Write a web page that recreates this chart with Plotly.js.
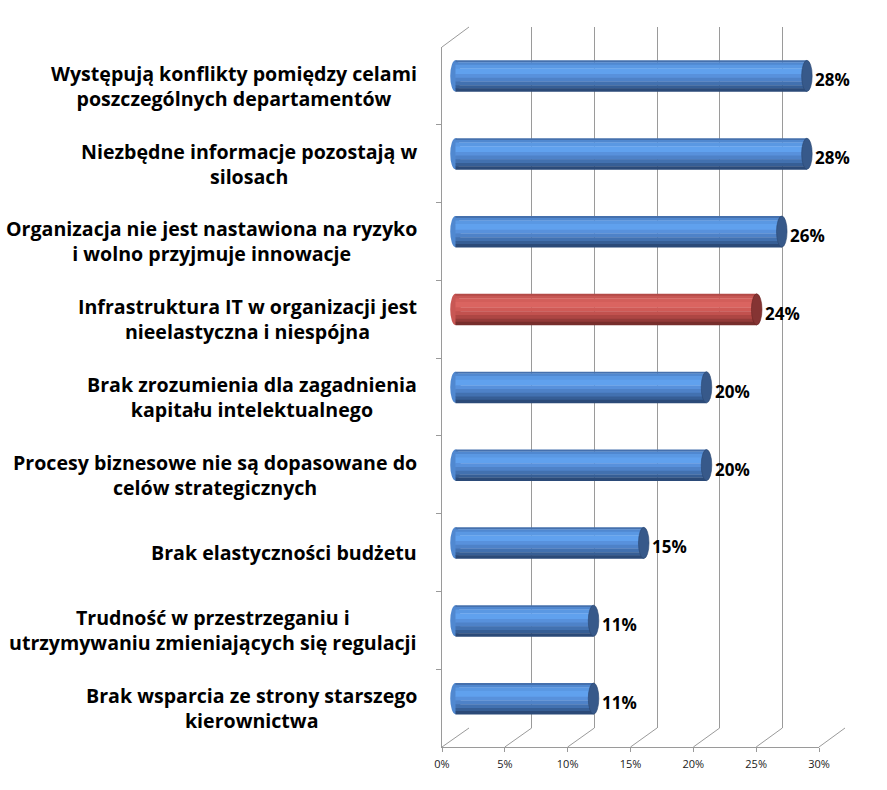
<!DOCTYPE html>
<html>
<head>
<meta charset="utf-8">
<script src="https://cdn.plot.ly/plotly-3.0.1.min.js"></script>
<style>html,body{margin:0;padding:0;background:#fff;}#chart{width:887px;height:790px;}</style>
</head>
<body>
<div id="chart"></div>
<script>
// ---- data ----
var categories = [
  "Występują konflikty pomiędzy celami<br>poszczególnych departamentów",
  "Niezbędne informacje pozostają w<br>silosach",
  "Organizacja nie jest nastawiona na ryzyko<br>i wolno przyjmuje innowacje",
  "Infrastruktura IT w organizacji jest<br>nieelastyczna i niespójna",
  "Brak zrozumienia dla zagadnienia<br>kapitału intelektualnego",
  "Procesy biznesowe nie są dopasowane do<br>celów strategicznych",
  "Brak elastyczności budżetu",
  "Trudność w przestrzeganiu i<br>utrzymywaniu zmieniających się regulacji",
  "Brak wsparcia ze strony starszego<br>kierownictwa"
];
var values = [28, 28, 26, 24, 20, 20, 15, 11, 11];
var valueLabels = ["28%", "28%", "26%", "24%", "20%", "20%", "15%", "11%", "11%"];
var highlighted = [false, false, false, true, false, false, false, false, false];
var tickValues = [0, 5, 10, 15, 20, 25, 30];

// ---- styling ----
var W = 887, H = 790;
function px(x){ return x / W; }
function py(y){ return 1 - y / H; }
var frontBox = {x0: 442, x1: 819, y0: 47, y1: 747};
var backBox  = {x0: 469, x1: 845, y0: 27, y1: 728};
var xMax = 30, xMinMid = -1;
var midScale = (832 - 455.5) / xMax;
var midBox   = {x0: 455.5 + xMinMid * midScale, x1: 832, y0: 37, y1: 737.5};

var barThick = 0.40;
// vertical shading bands of the cylinder (top -> bottom)
var bandEdges = [0, 0.06, 0.14, 0.26, 0.44, 0.56, 0.68, 0.80, 0.90, 1.0];
var blueBands = ["#4570ad", "#5088d0", "#5a98e3", "#60a1ee", "#5891dc", "#4e82c8", "#4271b0", "#365e95", "#2b4a78"];
var redBands  = ["#b34a47", "#c85754", "#d35e5a", "#da6460", "#cf5a56", "#c2514e", "#ad4643", "#943b39", "#772e2c"];
var capBlue = "#37598a", capRed = "#853433";
var leftBlue = "#5088d0", leftRed = "#c85754";

var traces = [];
// invisible trace to populate front category axis
traces.push({type: 'scatter', x: values, y: categories, xaxis: 'x', yaxis: 'y',
  mode: 'markers', marker: {opacity: 0}, hoverinfo: 'skip', showlegend: false});
// invisible trace for back plane
traces.push({type: 'scatter', x: values, y: values.map(function(){return 0.5;}), xaxis: 'x2', yaxis: 'y2',
  mode: 'markers', marker: {opacity: 0}, hoverinfo: 'skip', showlegend: false});

blueBands.forEach(function(col, b){
  var bandTop = bandEdges[b], bandBot = bandEdges[b + 1];
  traces.push({
    type: 'bar', orientation: 'h', x: values, y: categories,
    xaxis: 'x3', yaxis: 'y3',
    width: categories.map(function(){return (bandBot - bandTop) * barThick + 0.004;}),
    offset: categories.map(function(){return -barThick / 2 + bandTop * barThick;}),
    marker: {color: highlighted.map(function(h){return h ? redBands[b] : blueBands[b];}), line: {width: 0}},
    hoverinfo: 'skip', showlegend: false
  });
});

var shapes = [];
// end caps and rounded left ends from the data
var capHalf = 0.42;
values.forEach(function(v, i){
  shapes.push({type: 'circle', xref: 'x3', yref: 'y3', layer: 'below',
    x0: -capHalf, x1: capHalf, y0: i - barThick / 2, y1: i + barThick / 2,
    fillcolor: highlighted[i] ? leftRed : leftBlue, line: {width: 0}});
  shapes.push({type: 'circle', xref: 'x3', yref: 'y3', layer: 'above',
    x0: v - capHalf, x1: v + capHalf, y0: i - barThick / 2, y1: i + barThick / 2,
    fillcolor: highlighted[i] ? capRed : capBlue,
    line: {width: 0.6, color: highlighted[i] ? '#6a2422' : '#2a4670'}});
});
// 3D frame lines
var lineStyle = {color: '#9a9a9a', width: 1};
shapes.push({type: 'line', xref: 'paper', yref: 'paper',
  x0: px(frontBox.x0), y0: py(frontBox.y0), x1: px(backBox.x0), y1: py(backBox.y0), line: lineStyle});
tickValues.forEach(function(t){
  var fx = frontBox.x0 + (frontBox.x1 - frontBox.x0) * t / xMax;
  var bx = backBox.x0 + (backBox.x1 - backBox.x0) * t / xMax;
  shapes.push({type: 'line', xref: 'paper', yref: 'paper',
    x0: px(fx), y0: py(frontBox.y1), x1: px(bx), y1: py(backBox.y1), line: lineStyle});
});

var labelFont = {family: '"Open Sans", sans-serif', size: 19.6, color: '#000', weight: 'bold'};
// category labels as centered multi-line annotations
var annotations = categories.map(function(c){
  return {xref: 'paper', yref: 'y', x: px(419), y: c, xanchor: 'right', yanchor: 'middle',
    align: 'center', showarrow: false, text: c, font: labelFont};
});
// value labels
values.forEach(function(v, i){
  annotations.push({xref: 'x3', yref: 'y3', x: v, y: categories[i], xanchor: 'left', yanchor: 'middle',
    xshift: 6, yshift: -4, showarrow: false, text: valueLabels[i],
    font: {family: '"Open Sans", sans-serif', size: 17, color: '#000', weight: 'bold'}});
});

var layout = {
  width: W, height: H,
  margin: {l: 0, r: 0, t: 0, b: 0},
  paper_bgcolor: '#ffffff', plot_bgcolor: 'rgba(0,0,0,0)',
  showlegend: false, barmode: 'overlay',
  font: {family: '"Open Sans", sans-serif'},
  xaxis: {domain: [px(frontBox.x0), px(frontBox.x1)], range: [0, xMax], anchor: 'y',
    tickvals: tickValues, ticktext: tickValues.map(function(t){return t + '%';}),
    showgrid: false, zeroline: false, showline: true, linecolor: '#9a9a9a', linewidth: 1,
    ticks: 'outside', ticklen: 4, tickcolor: '#9a9a9a', ticklabelstandoff: 3,
    tickfont: {family: '"Open Sans", sans-serif', size: 11, color: '#1a1a1a'}},
  yaxis: {domain: [py(frontBox.y1), py(frontBox.y0)], anchor: 'x', type: 'category',
    categoryorder: 'array', categoryarray: categories, autorange: 'reversed',
    showticklabels: false, showgrid: false, zeroline: false, showline: true,
    linecolor: '#9a9a9a', ticks: 'outside', tickson: 'boundaries', ticklen: 5, tickcolor: '#9a9a9a'},
  xaxis2: {domain: [px(backBox.x0), px(backBox.x1)], range: [0, xMax], anchor: 'y2',
    tickvals: tickValues, showticklabels: false, ticks: '', showgrid: true,
    gridcolor: '#9a9a9a', gridwidth: 1, zeroline: false, showline: false},
  yaxis2: {domain: [py(backBox.y1), py(backBox.y0)], range: [0, 1], anchor: 'x2',
    visible: false, showgrid: false, zeroline: false},
  xaxis3: {domain: [px(midBox.x0), px(midBox.x1)], range: [xMinMid, xMax], anchor: 'y3',
    visible: false, showgrid: false, zeroline: false},
  yaxis3: {domain: [py(midBox.y1), py(midBox.y0)], anchor: 'x3', type: 'category',
    categoryorder: 'array', categoryarray: categories, autorange: 'reversed',
    visible: false, showgrid: false, zeroline: false},
  shapes: shapes,
  annotations: annotations
};

Plotly.newPlot('chart', traces, layout, {staticPlot: true, displayModeBar: false});
</script>
</body>
</html>
